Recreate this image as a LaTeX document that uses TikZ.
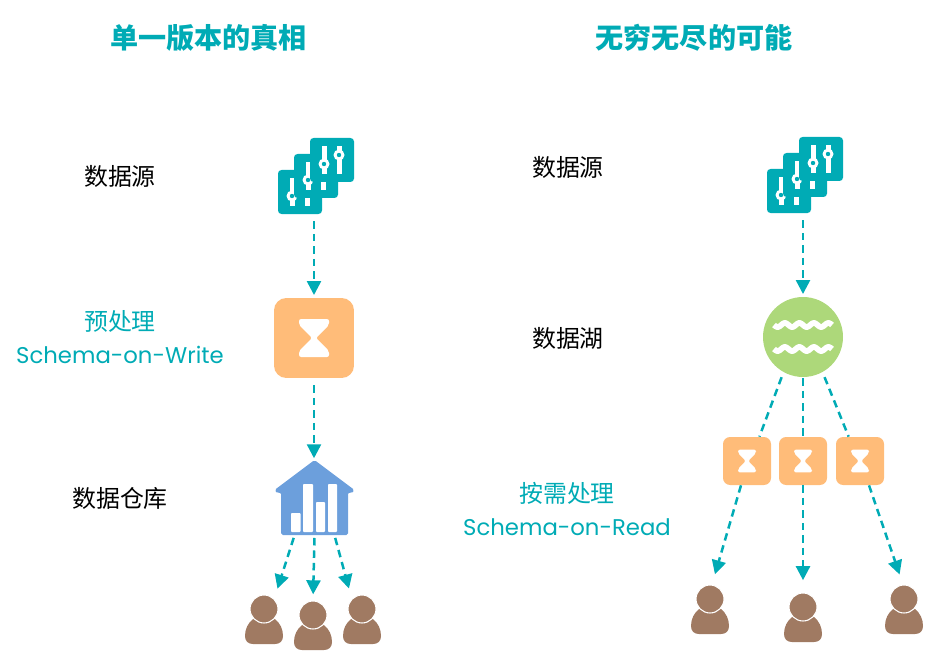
\documentclass[tikz,border=0pt]{standalone}
\usepackage{fontspec}
\setmainfont{Noto Sans CJK SC}
\newfontfamily\latinfont{Poppins}
\usetikzlibrary{arrows.meta}

\definecolor{flowteal}{HTML}{00ABB5}
\definecolor{procorange}{HTML}{FFBC79}
\definecolor{lakegreen}{HTML}{ADD87A}
\definecolor{housblue}{HTML}{6C9FDC}
\definecolor{userbrown}{HTML}{A07A62}

\tikzset{
    hourglass/.pic={
        \fill[white, rounded corners=1.2pt] (-15,-19) -- (15,-19) -- (15,-13) -- (2,0) -- (15,13) -- (15,19) -- (-15,19) -- (-15,13) -- (-2,0) -- (-15,-13) -- cycle;
    },
    sliderstack/.pic={
        \foreach \i in {0,1,2} {
            \begin{scope}[shift={(16*\i-16,16-16*\i)}]
                \fill[flowteal, rounded corners=2pt] (-22,-22) rectangle (22,22);
                \fill[white] (-10.5,-14) rectangle (-5.5,14);
                \fill[white] (4.5,-14) rectangle (9.5,14);
                \fill[white] (-8,4) circle (5.5);
                \fill[flowteal] (-8,4) circle (2.2);
                \fill[white] (7,-5) circle (5.5);
                \fill[flowteal] (7,-5) circle (2.2);
            \end{scope}
        }
    },
    waves/.pic={
        \draw[white, line width=0.115cm] plot[domain=-29:29, samples=120, smooth] (\x, {-12+2*sin(\x*360/14.5)});
        \draw[white, line width=0.115cm] plot[domain=-29:29, samples=120, smooth] (\x, {12+2*sin(\x*360/14.5)});
    },
    housebars/.pic={
        \fill[housblue, rounded corners=1pt] (-40,-22) -- (0,-52) -- (40,-22) -- (37,-18.5) -- (33.5,-20) -- (33.5,23) -- (-33.5,23) -- (-33.5,-20) -- (-37,-18.5) -- cycle;
        \fill[white, rounded corners=0.5pt] (-23.5,1) rectangle (-14,20);
        \fill[white, rounded corners=0.5pt] (-11.5,-28) rectangle (-1.5,20);
        \fill[white, rounded corners=0.5pt] (1.5,-10) rectangle (10.5,20);
        \fill[white, rounded corners=0.5pt] (13.5,-28) rectangle (22.5,20);
    },
    personbody/.pic={
        \fill[userbrown] (-11,10) .. controls (-16,14) and (-19,20) .. (-19,27) .. controls (-19,32) and (-16,35) .. (-11,35) -- (11,35) .. controls (16,35) and (19,32) .. (19,27) .. controls (19,20) and (16,14) .. (11,10) -- cycle;
    }
}

\begin{document}
\begin{tikzpicture}[
        x=0.02cm, y=-0.02cm,
        heading/.style={text=flowteal, font=\fontsize{16}{18}\selectfont\bfseries, inner sep=0pt},
        blacklabel/.style={text=black, font=\fontsize{13.6}{16}\selectfont, inner sep=0pt},
        teallabel/.style={text=flowteal, align=center, font=\fontsize{13.6}{19}\selectfont, inner sep=0pt},
        procbig/.style={rectangle, fill=procorange, rounded corners=7pt, minimum size=1.6cm, inner sep=0pt},
        procsmall/.style={rectangle, fill=procorange, rounded corners=4pt, minimum size=0.96cm, inner sep=0pt},
        lakenode/.style={circle, fill=lakegreen, minimum size=1.6cm, inner sep=0pt},
        stacknode/.style={rectangle, minimum size=1.52cm, inner sep=0pt},
        housenode/.style={rectangle, minimum width=1.34cm, minimum height=0.92cm, inner sep=0pt},
        headnode/.style={circle, fill=userbrown, draw=white, line width=0.6pt, minimum size=0.56cm, inner sep=0pt},
        flow/.style={dashed, dash pattern=on 0.15cm off 0.1cm, draw=flowteal, line width=0.05cm},
        flowarrow/.style={flow, -{Triangle[length=0.28cm, width=0.28cm]}}
    ]
    \useasboundingbox (0,0) rectangle (949,662);

    % Define titles
    \node[heading] (title1) at (208.5,38) {单一版本的真相};
    \node[heading] (title2) at (694,38) {无穷无尽的可能};

    % Define left labels
    \node[blacklabel] (lab1) at (120,176) {数据源};
    \node[teallabel] (lab2) at (120,337) {预处理\\{\latinfont\fontsize{12.95}{19}\selectfont Schema-on-Write}};
    \node[blacklabel] (lab3) at (120,498) {数据仓库};

    % Define right labels
    \node[blacklabel] (lab4) at (568,167) {数据源};
    \node[blacklabel] (lab5) at (568,338) {数据湖};
    \node[teallabel] (lab6) at (567,509) {按需处理\\{\latinfont\fontsize{12.95}{19}\selectfont Schema-on-Read}};

    % Define left column
    \node[stacknode] (src1) at (316,176) {};
    \pic at (src1) {sliderstack};
    \node[procbig] (pre1) at (314,338) {};
    \pic at (pre1) {hourglass};
    \node[housenode] (house) at (314.5,512) {};
    \pic at (house) {housebars};
    \coordinate (housetop) at (314,460);

    % Define right column
    \node[stacknode] (src2) at (805,175) {};
    \pic at (src2) {sliderstack};
    \node[lakenode] (lake) at (803,337) {};
    \pic at (lake) {waves};
    \foreach \name/\xpos in {proc1/747, proc2/803, proc3/860} {
        \node[procsmall] (\name) at (\xpos,461) {};
        \pic[scale=0.6] at (\name) {hourglass};
    }

    % Define users
    \foreach \name/\xpos/\ypos in {user1/264/609, user2/313/615, user3/362/609, user4/710/599, user5/803/607, user6/904/599} {
        \pic at (\xpos,\ypos) {personbody};
        \node[headnode] (\name) at (\xpos,\ypos) {};
    }

    % Draw left flows
    \draw[flowarrow, shorten <=4pt, shorten >=1.5pt] (src1.south -| pre1) -- (pre1);
    \draw[flowarrow, shorten <=4pt, shorten >=1pt] (pre1) -- (housetop);
    \draw[flowarrow, shorten <=1.5pt, shorten >=6pt] ([shift={(-20,0)}]house.south) -- (user1.north east);
    \draw[flowarrow, shorten <=1.5pt, shorten >=3.5pt] (house.south) -- (user2.north);
    \draw[flowarrow, shorten <=1.5pt, shorten >=6pt] ([shift={(20,0)}]house.south) -- (user3.north west);

    % Draw right flows
    \draw[flowarrow, shorten <=4pt, shorten >=1.5pt] (src2.south -| lake) -- (lake);
    \draw[flow, shorten <=3pt] (lake.241) -- (proc1.63);
    \draw[flow, shorten <=0.5pt] (lake.south) -- (proc2.north);
    \draw[flow, shorten <=3pt] (lake.299) -- (proc3.115);
    \draw[flowarrow, shorten >=6pt] ([shift={(-6,0)}]proc1.south) -- ([shift={(2,0)}]user4.north);
    \draw[flowarrow, shorten >=7pt] (proc2.south) -- (user5.north);
    \draw[flowarrow, shorten >=6pt] ([shift={(9,0)}]proc3.south) -- ([shift={(-1,0)}]user6.north);

\end{tikzpicture}
\end{document}
